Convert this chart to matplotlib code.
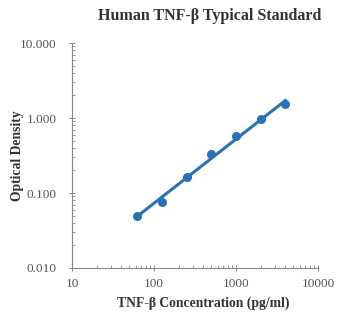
import matplotlib
matplotlib.use("Agg")
import matplotlib.pyplot as plt
import numpy as np
from matplotlib.ticker import LogLocator, FixedLocator, FixedFormatter, NullFormatter

conc = [62.5, 125, 250, 500, 1000, 2000, 4000]
od = [0.049, 0.077, 0.163, 0.33, 0.57, 0.96, 1.52]
xticks = [10, 100, 1000, 10000]
xticklabels = ["10", "100", "1000", "10000"]
yticks = [0.01, 0.1, 1, 10]
yticklabels = ["0.010", "0.100", "1.000", "10.000"]

plt.rcParams['font.family'] = ['Liberation Serif', 'DejaVu Serif']

fig = plt.figure(figsize=(3.37, 3.14), dpi=100)
ax = fig.add_axes([0.2136, 0.1465, 0.73, 0.7165])
ax.set_xscale('log')
ax.set_yscale('log')
ax.set_xlim(10, 10000)
ax.set_ylim(0.01, 10)

color = '#2a72b5'
# power trend line
lx = np.log10(conc)
ly = np.log10(od)
b, a = np.polyfit(lx, ly, 1)
xs = np.array([conc[0], conc[-1]])
ax.plot(xs, 10 ** (a + b * np.log10(xs)), color=color, lw=2.2, zorder=2)
ax.plot(conc, od, 'o', color=color, ms=5.5, zorder=3)

for s in ['top', 'right']:
    ax.spines[s].set_visible(False)
for s in ['left', 'bottom']:
    ax.spines[s].set_color('#888888')
    ax.spines[s].set_linewidth(0.8)

ax.xaxis.set_major_locator(FixedLocator(xticks))
ax.xaxis.set_major_formatter(FixedFormatter(xticklabels))
ax.yaxis.set_major_locator(FixedLocator(yticks))
ax.yaxis.set_major_formatter(FixedFormatter(yticklabels))
ax.xaxis.set_minor_locator(LogLocator(base=10, subs=np.arange(2, 10), numticks=20))
ax.yaxis.set_minor_locator(LogLocator(base=10, subs=np.arange(2, 10), numticks=20))
ax.xaxis.set_minor_formatter(NullFormatter())
ax.yaxis.set_minor_formatter(NullFormatter())
ax.tick_params(which='major', direction='inout', length=4, width=0.7, color='#888888',
               labelsize=9.5, labelcolor='#555555')
ax.tick_params(which='minor', direction='in', length=2.5, width=0.6, color='#888888')
ax.tick_params(axis='x', pad=5)
ax.tick_params(axis='y', pad=9)

fig.text(0.623, 0.948, "Human TNF-β Typical Standard", ha='center', va='center',
         fontsize=11.5, fontweight='bold', color='#333333')
fig.text(0.602, 0.035, "TNF-β Concentration (pg/ml)", ha='center', va='center',
         fontsize=9.8, fontweight='bold', color='#333333')
fig.text(0.053, 0.505, "Optical Density", ha='center', va='center', rotation=90,
         fontsize=9.8, fontweight='bold', color='#333333')

fig.savefig("out.png", dpi=100)
